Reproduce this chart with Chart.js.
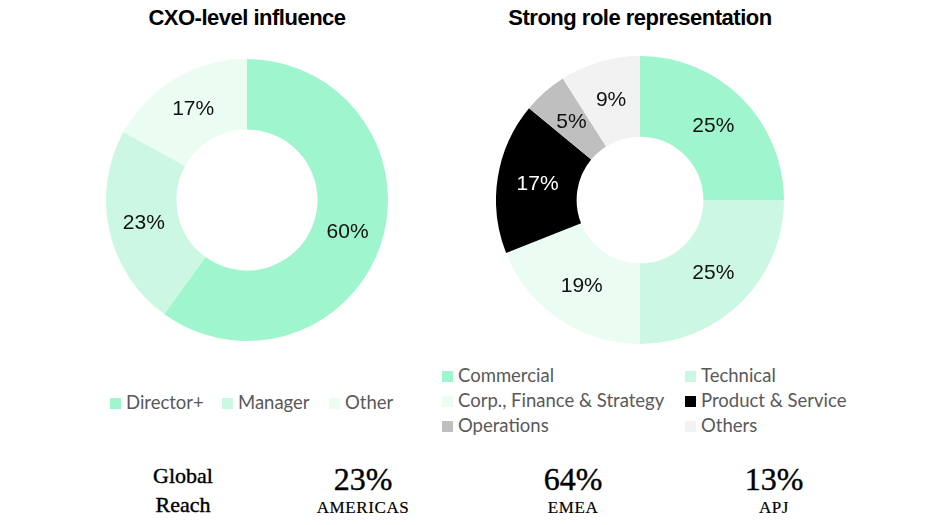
<!DOCTYPE html>
<html>
<head>
<meta charset="utf-8">
<script src="https://cdn.jsdelivr.net/npm/chart.js@4.4.1/dist/chart.umd.min.js"></script>
<style>
  html, body { margin: 0; padding: 0; background: #fff; }
  #page { position: relative; width: 945px; height: 525px; overflow: hidden; }
  .title { position: absolute; top: 5px; font: bold 22px "Liberation Sans", Arial, sans-serif; letter-spacing: -0.5px; color: #000; text-align: center; width: 400px; }
  .donut { position: absolute; }
  .legend { position: absolute; font: 18.5px Lato, "Open Sans", sans-serif; color: #595959; }
  .legend .item { position: absolute; white-space: nowrap; line-height: 20px; }
  .legend .box { display: inline-block; width: 11px; height: 11px; margin-right: 5px; vertical-align: 0px; }
  .reach { position: absolute; font-family: "Liberation Serif", "Times New Roman", serif; color: #000; text-align: center; -webkit-text-stroke: 0.4px #000; }
  .reach .big { font-size: 32px; line-height: 32px; }
  .reach .small { font-size: 17px; line-height: 26px; letter-spacing: 0.6px; -webkit-text-stroke: 0.2px #000; }
  .reach .label { font-size: 22px; line-height: 29px; }
</style>
</head>
<body>
<div id="page">
  <div class="title" style="left:47px">CXO-level influence</div>
  <div class="title" style="left:440px">Strong role representation</div>

  <canvas id="cxoChart" class="donut" style="left:106px;top:59px;width:282px;height:282px"></canvas>
  <canvas id="roleChart" class="donut" style="left:496px;top:56px;width:288px;height:288px"></canvas>

  <div id="cxoLegend" class="legend"></div>
  <div id="roleLegend" class="legend"></div>

  <div id="reachRow"></div>
</div>

<script>
// left donut
const cxoLabels = ['Director+', 'Manager', 'Other'];
const cxoValues = [60, 23, 17];
const cxoColors = ['#9ff5cd', '#ccf8e3', '#ebfcf3'];

// right donut
const roleLabels = ['Commercial', 'Technical', 'Corp., Finance & Strategy', 'Product & Service', 'Operations', 'Others'];
const roleValues = [25, 25, 19, 17, 5, 9];
const roleColors = ['#9ff5cd', '#ccf8e3', '#ebfcf3', '#000000', '#bfbfbf', '#f2f2f2'];

// bottom row
const regions = ['AMERICAS', 'EMEA', 'APJ'];
const regionShares = [23, 64, 13];

// percentage text in the middle of each slice
const sliceLabels = {
    id: 'sliceLabels',
    afterDatasetsDraw(chart) {
        const ctx = chart.ctx;
        const ds = chart.data.datasets[0];
        chart.getDatasetMeta(0).data.forEach((arc, i) => {
            const pos = arc.tooltipPosition();
            ctx.save();
            ctx.font = '21px "Liberation Sans", Arial, sans-serif';
            ctx.fillStyle = ds.backgroundColor[i] === '#000000' ? '#ffffff' : '#111111';
            ctx.textAlign = 'center';
            ctx.textBaseline = 'middle';
            ctx.fillText(ds.data[i] + '%', pos.x, pos.y);
            ctx.restore();
        });
    }
};

function makeDonut(id, labels, values, colors, cutout) {
    return new Chart(document.getElementById(id), {
        type: 'doughnut',
        data: {
            labels: labels,
            datasets: [{
                data: values,
                backgroundColor: colors,
                borderColor: '#ffffff',
                borderWidth: 0
            }]
        },
        options: {
            responsive: false,
            animation: false,
            cutout: cutout,
            layout: { padding: 0 },
            plugins: {
                legend: { display: false },
                tooltip: { enabled: false },
                title: { display: false }
            }
        },
        plugins: [sliceLabels]
    });
}

// size canvases to their css box
['cxoChart', 'roleChart'].forEach(id => {
    const c = document.getElementById(id);
    c.width = parseInt(c.style.width);
    c.height = parseInt(c.style.height);
});

makeDonut('cxoChart', cxoLabels, cxoValues, cxoColors, '50%');
makeDonut('roleChart', roleLabels, roleValues, roleColors, '44%');

function addLegendItem(parent, label, color, x, y) {
    const item = document.createElement('div');
    item.className = 'item';
    item.style.left = x + 'px';
    item.style.top = y + 'px';
    item.innerHTML = `<span class="box" style="background:${color}"></span>${label}`;
    parent.appendChild(item);
}

const cxoLegendEl = document.getElementById('cxoLegend');
const cxoLegendX = [110, 222, 329];
cxoLabels.forEach((label, i) => addLegendItem(cxoLegendEl, label, cxoColors[i], cxoLegendX[i], 392));

const roleLegendEl = document.getElementById('roleLegend');
roleLabels.forEach((label, i) => {
    const col = i % 2;
    const row = Math.floor(i / 2);
    addLegendItem(roleLegendEl, label, roleColors[i], col === 0 ? 442 : 685, 365 + row * 25);
});

const reachRow = document.getElementById('reachRow');
const g = document.createElement('div');
g.className = 'reach';
g.style.left = '123px';
g.style.top = '461px';
g.style.width = '120px';
g.innerHTML = '<div class="label">Global</div><div class="label">Reach</div>';
reachRow.appendChild(g);

const regionX = [363, 573, 774];
regions.forEach((name, i) => {
    const d = document.createElement('div');
    d.className = 'reach';
    d.style.left = (regionX[i] - 80) + 'px';
    d.style.top = '463px';
    d.style.width = '160px';
    d.innerHTML = `<div class="big">${regionShares[i]}%</div><div class="small">${name}</div>`;
    reachRow.appendChild(d);
});
</script>
</body>
</html>
